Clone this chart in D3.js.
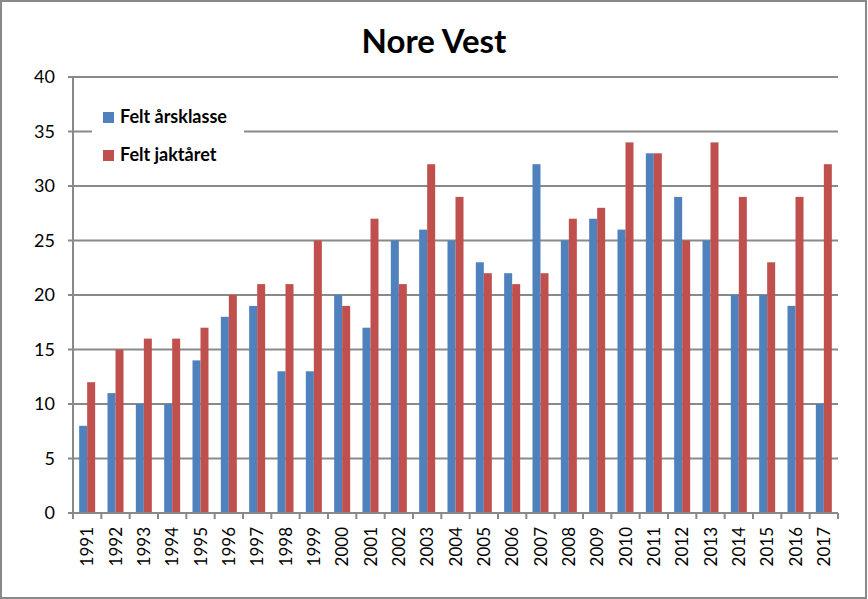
<!DOCTYPE html>
<html>
<head>
<meta charset="utf-8">
<script src="https://cdn.jsdelivr.net/npm/d3@7"></script>
<style>
  body { margin: 0; background: #fff; }
  svg { display: block; font-family: Lato, "Open Sans", sans-serif; }
</style>
</head>
<body>
<div id="chart"></div>
<script>
var years = ["1991", "1992", "1993", "1994", "1995", "1996", "1997", "1998", "1999", "2000",
  "2001", "2002", "2003", "2004", "2005", "2006", "2007", "2008", "2009", "2010",
  "2011", "2012", "2013", "2014", "2015", "2016", "2017"];
var arsklasse = [8, 11, 10, 10, 14, 18, 19, 13, 13, 20, 17, 25, 26, 25, 23, 22, 32, 25, 27, 26, 33, 29, 25, 20, 20, 19, 10];
var jaktaret = [12, 15, 16, 16, 17, 20, 21, 21, 25, 19, 27, 21, 32, 29, 22, 21, 22, 27, 28, 34, 33, 25, 34, 29, 23, 29, 32];
var seriesNames = ["Felt årsklasse", "Felt jaktåret"];
var yTicks = [0, 5, 10, 15, 20, 25, 30, 35, 40];

var width = 868, height = 599;
var margin = {left: 73, right: 30, top: 77, bottom: 86};

// Colours from the original spreadsheet palette.
var color = d3.scaleOrdinal().domain(seriesNames).range(["#4F81BD", "#C0504D"]);
var gridColor = "#898989";

var svg = d3.select("#chart").append("svg")
  .attr("width", width)
  .attr("height", height);

// Outer frame.
svg.append("rect")
  .attr("x", 1).attr("y", 1)
  .attr("width", width - 3).attr("height", height - 2)
  .attr("fill", "#fff")
  .attr("stroke", gridColor)
  .attr("stroke-width", 2);

var x = d3.scaleBand()
  .domain(years)
  .range([margin.left, width - margin.right]);

var x1 = d3.scaleBand()
  .domain(seriesNames)
  .range([0, x.bandwidth()])
  .paddingInner(0)
  .paddingOuter(0.77);

var y = d3.scaleLinear()
  .domain([0, 40])
  .range([height - margin.bottom, margin.top]);

// Gridlines.
svg.append("g")
  .selectAll("line")
  .data(yTicks)
  .enter()
  .append("line")
  .attr("x1", margin.left - 5)
  .attr("x2", width - margin.right)
  .attr("y1", function (d) { return y(d); })
  .attr("y2", function (d) { return y(d); })
  .attr("stroke", gridColor)
  .attr("stroke-width", 2);

// Y labels.
svg.append("g")
  .selectAll("text")
  .data(yTicks)
  .enter()
  .append("text")
  .attr("x", margin.left - 18)
  .attr("y", function (d) { return y(d); })
  .attr("dy", "0.36em")
  .attr("text-anchor", "end")
  .attr("font-size", 18)
  .attr("fill", "#000")
  .text(function (d) { return d; });

// Bars.
var rows = years.map(function (yr, i) {
  return {year: yr, values: [
    {name: seriesNames[0], value: arsklasse[i]},
    {name: seriesNames[1], value: jaktaret[i]}
  ]};
});

var groups = svg.append("g")
  .selectAll("g")
  .data(rows)
  .enter()
  .append("g")
  .attr("transform", function (d) { return "translate(" + x(d.year) + ",0)"; });

groups.selectAll("rect")
  .data(function (d) { return d.values; })
  .enter()
  .append("rect")
  .attr("x", function (d) { return x1(d.name); })
  .attr("width", x1.bandwidth())
  .attr("y", function (d) { return y(d.value); })
  .attr("height", function (d) { return y(0) - y(d.value); })
  .attr("fill", function (d) { return color(d.name); });

// Axes lines.
svg.append("line")
  .attr("x1", margin.left).attr("x2", margin.left)
  .attr("y1", y(40)).attr("y2", y(0))
  .attr("stroke", gridColor).attr("stroke-width", 2);

svg.append("line")
  .attr("x1", margin.left).attr("x2", width - margin.right)
  .attr("y1", y(0)).attr("y2", y(0))
  .attr("stroke", gridColor).attr("stroke-width", 2);

// X tick marks between categories.
svg.append("g")
  .selectAll("line")
  .data(years.concat(["end"]))
  .enter()
  .append("line")
  .attr("x1", function (d, i) { return margin.left + i * x.step(); })
  .attr("x2", function (d, i) { return margin.left + i * x.step(); })
  .attr("y1", y(0))
  .attr("y2", y(0) + 6)
  .attr("stroke", gridColor)
  .attr("stroke-width", 2);

// X labels, rotated.
svg.append("g")
  .selectAll("text")
  .data(years)
  .enter()
  .append("text")
  .attr("transform", function (d) {
    return "translate(" + (x(d) + x.bandwidth() / 2) + "," + (y(0) + 14) + ") rotate(-90)";
  })
  .attr("dy", "0.36em")
  .attr("text-anchor", "end")
  .attr("font-size", 17)
  .attr("fill", "#000")
  .text(function (d) { return d; });

// Title.
svg.append("text")
  .attr("x", 434)
  .attr("y", 53)
  .attr("text-anchor", "middle")
  .attr("font-size", 33)
  .attr("font-weight", "bold")
  .attr("fill", "#000")
  .text("Nore Vest");

// Legend.
var legend = svg.append("g").attr("transform", "translate(92,96)");
legend.append("rect")
  .attr("width", 152).attr("height", 80)
  .attr("fill", "#fff");

var item = legend.selectAll("g")
  .data(seriesNames)
  .enter()
  .append("g")
  .attr("transform", function (d, i) { return "translate(11," + (21 + i * 38) + ")"; });

item.append("rect")
  .attr("x", 0).attr("y", -5)
  .attr("width", 11).attr("height", 11)
  .attr("fill", function (d) { return color(d); });

item.append("text")
  .attr("x", 17)
  .attr("dy", "0.36em")
  .attr("font-size", 18)
  .attr("font-weight", "bold")
  .attr("fill", "#000")
  .text(function (d) { return d; });
</script>
</body>
</html>
